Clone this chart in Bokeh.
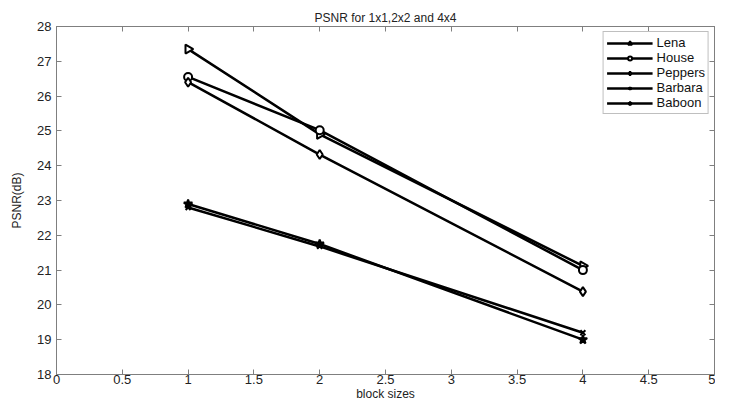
import numpy as np
from bokeh.plotting import figure
from bokeh.models import LinearAxis, FixedTicker, Range1d, Legend
from bokeh.embed import file_html
from bokeh.resources import INLINE

block_sizes = [1, 2, 4]
lena = [27.35, 24.90, 21.12]
house = [26.55, 25.02, 21.00]
peppers = [26.40, 24.32, 20.38]
barbara = [22.80, 21.68, 19.20]
baboon = [22.90, 21.75, 19.00]

x_ticks = [0, 0.5, 1, 1.5, 2, 2.5, 3, 3.5, 4, 4.5, 5]
x_tick_labels = ["0", "0.5", "1", "1.5", "2", "2.5", "3", "3.5", "4", "4.5", "5"]
y_ticks = [18, 19, 20, 21, 22, 23, 24, 25, 26, 27, 28]

FONT = "Liberation Sans"
AX = "#7f7f7f"

p = figure(width=715, height=403, output_backend="svg", toolbar_location=None,
           x_range=Range1d(0, 5), y_range=Range1d(18, 28),
           min_border_left=56, min_border_right=1, min_border_top=26, min_border_bottom=2)
p.title.text = "PSNR for 1x1,2x2 and 4x4"
p.title.align = "center"
p.title.text_font = FONT
p.title.text_font_size = "12px"
p.title.text_font_style = "normal"
p.title.text_color = "#222222"
p.title.standoff = 4
p.grid.visible = False
p.outline_line_color = AX
p.outline_line_width = 1

for ax in (p.xaxis[0], p.yaxis[0]):
    ax.major_tick_in = 5
    ax.major_tick_out = 0
    ax.minor_tick_line_color = None
    ax.axis_line_color = AX
    ax.major_tick_line_color = AX
    ax.major_label_text_font = FONT
    ax.major_label_text_font_size = "13px"
    ax.major_label_text_color = "#222222"
    ax.axis_label_text_font = FONT
    ax.axis_label_text_font_size = "12px"
    ax.axis_label_text_font_style = "normal"
    ax.axis_label_text_color = "#222222"

p.xaxis[0].ticker = FixedTicker(ticks=x_ticks)
p.xaxis[0].major_label_overrides = {t: s for t, s in zip(x_ticks, x_tick_labels)}
p.xaxis[0].major_label_standoff = 0
p.xaxis[0].axis_label = "block sizes"
p.xaxis[0].axis_label_standoff = 0
p.yaxis[0].ticker = FixedTicker(ticks=y_ticks)
p.yaxis[0].major_label_standoff = 5
p.yaxis[0].axis_label = "PSNR(dB)"
p.yaxis[0].axis_label_standoff = 10

empty_x = {t: "" for t in x_ticks}
empty_y = {t: "" for t in y_ticks}
top = LinearAxis(ticker=FixedTicker(ticks=x_ticks), major_tick_in=5, major_tick_out=0,
                 minor_tick_line_color=None, axis_line_color=AX, major_tick_line_color=AX,
                 major_label_overrides=empty_x, major_label_text_color=None,
                 major_label_standoff=0)
right = LinearAxis(ticker=FixedTicker(ticks=y_ticks), major_tick_in=5, major_tick_out=0,
                   minor_tick_line_color=None, axis_line_color=AX, major_tick_line_color=AX,
                   major_label_overrides=empty_y, major_label_text_color=None,
                   major_label_standoff=0)
p.add_layout(top, "above")
p.add_layout(right, "right")

series = [
    ("Lena", lena, "triangle", "white", 9, -np.pi / 2),
    ("House", house, "circle", "white", 8, 0),
    ("Peppers", peppers, "diamond", "white", 9, 0),
    ("Barbara", barbara, "x", "black", 7, 0),
    ("Baboon", baboon, "star", "black", 9, 0),
]
items = []
for name, vals, mk, fill, size, ang in series:
    r1 = p.line(block_sizes, vals, line_color="black", line_width=2.5)
    r2 = p.scatter(block_sizes, vals, marker=mk, size=size, angle=ang,
                   fill_color=fill, line_color="black", line_width=2)
    items.append((name, [r1, r2]))

legend = Legend(items=items, location="top_right", border_line_color=AX,
                label_text_font=FONT, label_text_font_size="13px", label_text_color="#111111",
                glyph_width=46, glyph_height=10, spacing=0, padding=3, margin=5,
                label_standoff=4, label_height=10, label_text_line_height=1.0)
p.add_layout(legend, "center")

open("out.html", "w").write(file_html(p, INLINE))
